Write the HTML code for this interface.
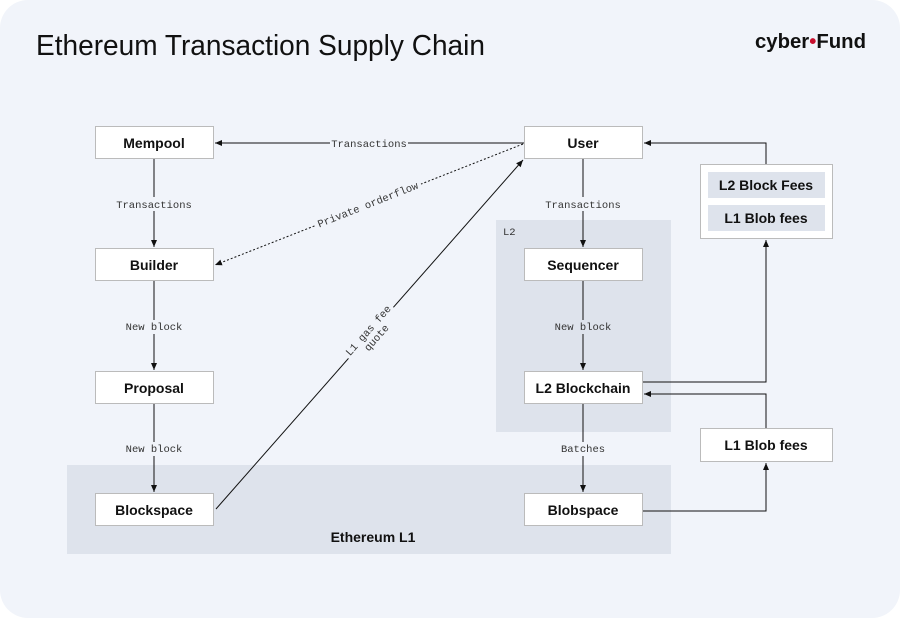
<!DOCTYPE html>
<html><head><meta charset="utf-8"><style>
html,body{margin:0;padding:0;background:#fff;}
svg{display:block;}
.b{font-family:"Liberation Sans",sans-serif;font-weight:bold;font-size:14px;fill:#111;}
.m{font-family:"Liberation Mono",monospace;font-size:10.5px;fill:#333;}
</style></head><body>
<svg width="900" height="618" viewBox="0 0 900 618" xmlns="http://www.w3.org/2000/svg">
<defs>
<marker id="a" markerWidth="8" markerHeight="8" refX="7" refY="4" orient="auto" markerUnits="userSpaceOnUse">
<path d="M0,1 L7,4 L0,7 z" fill="#111"/></marker>
</defs>
<rect x="0" y="0" width="900" height="618" rx="28" fill="#f1f4fa"/>
<text x="36" y="55" font-family="Liberation Sans,sans-serif" font-size="28.5" fill="#111" textLength="449" lengthAdjust="spacingAndGlyphs">Ethereum Transaction Supply Chain</text>
<text x="755" y="48" font-family="Liberation Sans,sans-serif" font-weight="bold" font-size="20" fill="#111" textLength="111" lengthAdjust="spacingAndGlyphs">cyber<tspan fill="#c8102e">•</tspan>Fund</text>
<!-- regions -->
<rect x="496" y="220" width="175" height="212" fill="#dee3ec"/>
<text x="503" y="235" class="m" font-size="9">L2</text>
<rect x="67" y="465" width="604" height="89" fill="#dee3ec"/>
<text x="373" y="542" class="b" text-anchor="middle">Ethereum L1</text>
<!-- connectors -->
<g stroke="#111" stroke-width="1" fill="none">
<line x1="524" y1="143" x2="215" y2="143" marker-end="url(#a)"/>
<line x1="154" y1="158" x2="154" y2="247" marker-end="url(#a)"/>
<line x1="154" y1="281" x2="154" y2="370" marker-end="url(#a)"/>
<line x1="154" y1="403" x2="154" y2="492" marker-end="url(#a)"/>
<line x1="583" y1="158" x2="583" y2="247" marker-end="url(#a)"/>
<line x1="583" y1="281" x2="583" y2="370" marker-end="url(#a)"/>
<line x1="583" y1="403" x2="583" y2="492" marker-end="url(#a)"/>
<line x1="523" y1="144" x2="215" y2="265" stroke-dasharray="2,2" marker-end="url(#a)"/>
<line x1="216" y1="509" x2="523" y2="160" marker-end="url(#a)"/>
<polyline points="766,164 766,143 644,143" marker-end="url(#a)"/>
<polyline points="642,382 766,382 766,240" marker-end="url(#a)"/>
<polyline points="766,428 766,394 644,394" marker-end="url(#a)"/>
<polyline points="642,511 766,511 766,463" marker-end="url(#a)"/>
</g>
<!-- labels -->
<g class="m" text-anchor="middle">
<rect x="330" y="136" width="78" height="14" fill="#f1f4fa"/>
<text x="369" y="147">Transactions</text>
<rect x="114" y="197" width="80" height="14" fill="#f1f4fa"/>
<text x="154" y="208">Transactions</text>
<rect x="543" y="197" width="80" height="14" fill="#f1f4fa"/>
<text x="583" y="208">Transactions</text>
<rect x="124" y="320" width="60" height="14" fill="#f1f4fa"/>
<text x="154" y="330">New block</text>
<rect x="553" y="320" width="60" height="14" fill="#dee3ec"/>
<text x="583" y="330">New block</text>
<rect x="124" y="442" width="60" height="14" fill="#f1f4fa"/>
<text x="154" y="452">New block</text>
<rect x="558" y="442" width="50" height="14" fill="#f1f4fa"/>
<text x="583" y="452">Batches</text>
<g transform="translate(368,205) rotate(-21.6)">
<rect x="-57" y="-8" width="114" height="13" fill="#f1f4fa"/>
<text x="0" y="3">Private orderflow</text></g>
<g transform="translate(370,332) rotate(-48.7)">
<rect x="-34" y="-9" width="68" height="24" fill="#f1f4fa"/>
<text x="0" y="1">L1 gas fee</text><text x="0" y="12">quote</text></g>
</g>
<!-- nodes -->
<g fill="#fff" stroke="#bbb" stroke-width="1">
<rect x="95.5" y="126.5" width="118" height="32"/>
<rect x="524.5" y="126.5" width="118" height="32"/>
<rect x="95.5" y="248.5" width="118" height="32"/>
<rect x="95.5" y="371.5" width="118" height="32"/>
<rect x="95.5" y="493.5" width="118" height="32"/>
<rect x="524.5" y="248.5" width="118" height="32"/>
<rect x="524.5" y="371.5" width="118" height="32"/>
<rect x="524.5" y="493.5" width="118" height="32"/>
<rect x="700.5" y="164.5" width="132" height="74"/>
<rect x="700.5" y="428.5" width="132" height="33"/>
</g>
<rect x="708" y="172" width="117" height="26" fill="#dee3ec"/>
<rect x="708" y="205" width="117" height="26" fill="#dee3ec"/>
<g class="b" text-anchor="middle">
<text x="154" y="148">Mempool</text>
<text x="583" y="148">User</text>
<text x="154" y="270">Builder</text>
<text x="154" y="393">Proposal</text>
<text x="154" y="515">Blockspace</text>
<text x="583" y="270">Sequencer</text>
<text x="583" y="393">L2 Blockchain</text>
<text x="583" y="515">Blobspace</text>
<text x="766" y="190">L2 Block Fees</text>
<text x="766" y="223">L1 Blob fees</text>
<text x="766" y="450">L1 Blob fees</text>
</g>
</svg>
</body></html>
